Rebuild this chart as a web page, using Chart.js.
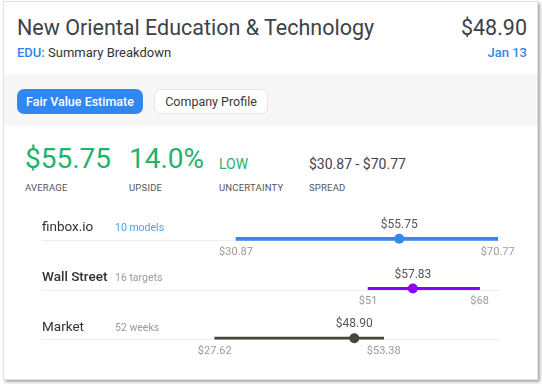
<!DOCTYPE html>
<html>
<head>
<meta charset="utf-8">
<script src="https://cdn.jsdelivr.net/npm/chart.js@4"></script>
<style>
  body { margin: 0; background: #fff; font-family: Roboto, sans-serif; }
  #card { position: absolute; left: 3px; top: 1px; width: 533px; height: 377px; border: 1px solid #e2e2e2; box-shadow: 2px 2px 3px rgba(0,0,0,0.35); background: #fff; }
  .abs { position: absolute; white-space: nowrap; }
  #title { left: 13px; top: 15px; font-size: 21.5px; line-height: 22px; color: #3d4247; }
  #price { right: 10px; top: 15px; font-size: 21.5px; line-height: 22px; color: #3d4247; }
  #sub { left: 13px; top: 44px; font-size: 13px; line-height: 13px; color: #333; }
  #sub b { color: #2f86ea; font-weight: 500; }
  #date { right: 10px; top: 44px; font-size: 13px; line-height: 13px; color: #2f86ea; font-weight: 500; }
  #band { left: 0; top: 72px; width: 533px; height: 52px; background: #f7f7f7; }
  .btn { top: 15px; height: 25px; border-radius: 7px; font-size: 12.5px; font-weight: 500; line-height: 25px; text-align: center; }
  #b1 { left: 13px; width: 126px; background: #2f87ef; color: #fff; }
  #b2 { left: 150px; width: 112px; background: #fff; color: #3a3a3a; font-weight: 400; border: 1px solid #e6e6e6; height: 23px; line-height: 23px; }
  .big { top: 143px; font-size: 28px; line-height: 28px; color: #1fb36c; }
  .mid { top: 155px; font-size: 14px; line-height: 14px; }
  .lab { top: 181px; font-size: 9.5px; line-height: 10px; color: #555; letter-spacing: 0.2px; }
  #chart { position: absolute; left: 0; top: 200px; }
</style>
</head>
<body>
<div id="card">
  <div class="abs" id="title">New Oriental Education &amp; Technology</div>
  <div class="abs" id="price">$48.90</div>
  <div class="abs" id="sub"><b>EDU:</b> Summary Breakdown</div>
  <div class="abs" id="date">Jan 13</div>
  <div class="abs" id="band">
    <div class="abs btn" id="b1">Fair Value Estimate</div>
    <div class="abs btn" id="b2">Company Profile</div>
  </div>
  <div class="abs big" style="left:21px">$55.75</div>
  <div class="abs big" style="left:125px">14.0%</div>
  <div class="abs mid" style="left:215px;color:#1fb36c">LOW</div>
  <div class="abs mid" style="left:305px;color:#444">$30.87 - $70.77</div>
  <div class="abs lab" style="left:21px">AVERAGE</div>
  <div class="abs lab" style="left:125px">UPSIDE</div>
  <div class="abs lab" style="left:215px">UNCERTAINTY</div>
  <div class="abs lab" style="left:305px">SPREAD</div>
</div>
<canvas id="chart" width="542" height="170"></canvas>
<script>
var sources = ["finbox.io", "Wall Street", "Market"];
var notes = ["10 models", "16 targets", "52 weeks"];
var lows = [30.87, 51, 27.62];
var highs = [70.77, 68, 53.38];
var points = [55.75, 57.83, 48.90];
var lowLabels = ["$30.87", "$51", "$27.62"];
var highLabels = ["$70.77", "$68", "$53.38"];
var pointLabels = ["$55.75", "$57.83", "$48.90"];

var colors = ["#3389ef", "#8c00f5", "#48463a"];
var thickness = [3, 2.5, 2];

var datasets = [];
for (var i = 0; i < sources.length; i++) {
  var d = sources.map(function () { return null; });
  d[i] = [lows[i], highs[i]];
  datasets.push({
    type: "bar",
    data: d,
    backgroundColor: colors[i],
    barThickness: thickness[i],
    grouped: false,
    order: 2
  });
}
datasets.push({
  type: "scatter",
  data: points.map(function (p, i) { return { x: p, y: sources[i] }; }),
  pointRadius: 5,
  pointHoverRadius: 5,
  pointBackgroundColor: colors,
  pointBorderWidth: 0,
  order: 1
});

var rowText = {
  id: "rowText",
  beforeDatasetsDraw: function (chart) {
    var c = chart.ctx, ys = chart.scales.y;
    c.save();
    c.strokeStyle = "#eeeeee";
    c.lineWidth = 1;
    for (var i = 0; i < sources.length; i++) {
      var y = Math.round(ys.getPixelForValue(i)) + 1.5;
      c.beginPath();
      c.moveTo(42, y);
      c.lineTo(500, y);
      c.stroke();
    }
    c.restore();
  },
  afterDatasetsDraw: function (chart) {
    var c = chart.ctx, xs = chart.scales.x, ys = chart.scales.y;
    c.save();
    c.textBaseline = "middle";
    for (var i = 0; i < sources.length; i++) {
      var y = ys.getPixelForValue(i);
      c.textAlign = "left";
      c.font = (i === 1 ? "500 " : "") + "13.5px Roboto";
      c.fillStyle = "#2f3236";
      c.fillText(sources[i], 42, y - 11);
      c.font = "10.5px Roboto";
      c.fillStyle = i === 0 ? "#4a9ff2" : "#9a9a9a";
      c.fillText(notes[i], 115, y - 10);
      c.textAlign = "center";
      c.font = "12px Roboto";
      c.fillStyle = "#555";
      c.fillText(pointLabels[i], xs.getPixelForValue(points[i]), y - 14);
      c.font = "11px Roboto";
      c.fillStyle = "#9a9a9a";
      c.fillText(lowLabels[i], xs.getPixelForValue(lows[i]), y + 13);
      c.fillText(highLabels[i], xs.getPixelForValue(highs[i]), y + 13);
    }
    c.restore();
  }
};

new Chart(document.getElementById("chart").getContext("2d"), {
  type: "bar",
  data: { labels: sources, datasets: datasets },
  options: {
    indexAxis: "y",
    responsive: false,
    animation: false,
    layout: { padding: { left: 33.5, right: 16.5, top: 14, bottom: 7 } },
    scales: {
      x: { type: "linear", min: 0, max: 75, display: false },
      y: { type: "category", display: false, offset: true }
    },
    plugins: { legend: { display: false }, tooltip: { enabled: false } }
  },
  plugins: [rowText]
});
</script>
</body>
</html>
